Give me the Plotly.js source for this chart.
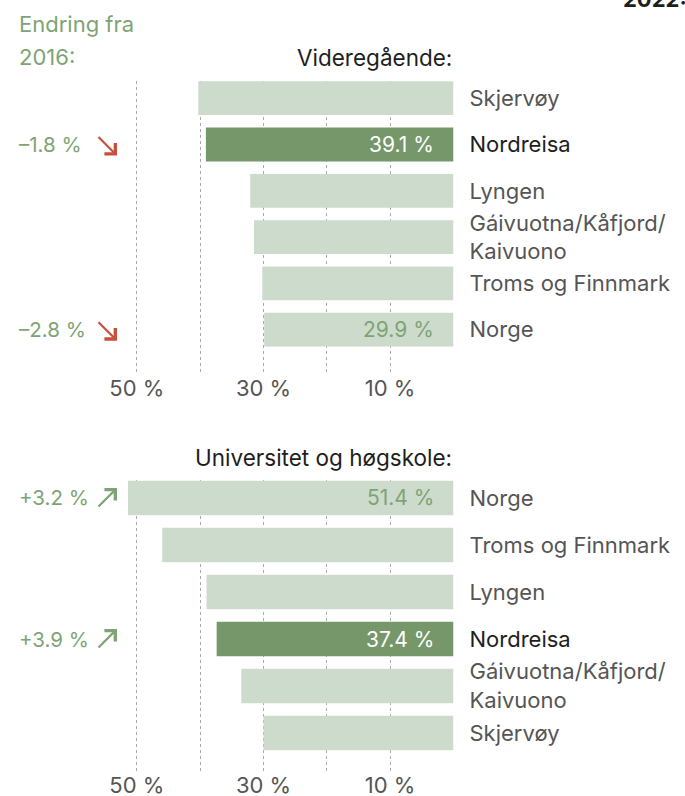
<!DOCTYPE html>
<html>
<head>
<meta charset="utf-8">
<script src="https://cdn.plot.ly/plotly-3.0.1.min.js"></script>
<style>
html,body{margin:0;padding:0;background:#fff;}
#chart{width:685px;height:796px;}
</style>
</head>
<body>
<div id="chart"></div>
<script>
// ---- data ----
const catsVGS = ["Skjervøy", "Nordreisa", "Lyngen", "Gáivuotna/Kåfjord/<br>Kaivuono", "Troms og Finnmark", "Norge"];
const valsVGS = [40.3, 39.1, 32.1, 31.5, 30.2, 29.9];
const labelVGS = [null, "39.1 %", null, null, null, "29.9 %"];
const changeVGS = [null, -1.8, null, null, null, -2.8];

const catsUH = ["Norge", "Troms og Finnmark", "Lyngen", "Nordreisa", "Gáivuotna/Kåfjord/<br>Kaivuono", "Skjervøy"];
const valsUH = [51.4, 46.0, 39.0, 37.4, 33.5, 30.0];
const labelUH = ["51.4 %", null, null, "37.4 %", null, null];
const changeUH = [3.2, null, null, 3.9, null, null];

const tickVals = [0, 10, 20, 30, 40, 50];
const tickText = ["", "10 %", "", "30 %", "", "50 %"];

// ---- style ----
const W = 685, H = 796;
const FONT = "Inter, 'Noto Sans', sans-serif";
const LIGHT = "#cddbcd", DARK = "#76976a", GREEN = "#7ea475", RED = "#c6503b";
const GREY = "#555555", INK = "#1e1e1e";
const highlight = "Nordreisa";

function px(x){ return x / W; }
function py(y){ return 1 - y / H; }

function colors(cats){ return cats.map(c => c === highlight ? DARK : LIGHT); }
function tickLabels(cats){
  return cats.map(c => c === highlight ? '<span style="color:' + INK + '">' + c + '</span>' : c);
}

const traces = [
  {type: "bar", orientation: "h", x: valsVGS, y: catsVGS, xaxis: "x", yaxis: "y",
   marker: {color: colors(catsVGS)}, width: 0.73, hoverinfo: "none"},
  {type: "bar", orientation: "h", x: valsUH, y: catsUH, xaxis: "x2", yaxis: "y2",
   marker: {color: colors(catsUH)}, width: 0.73, hoverinfo: "none"}
];

const annotations = [];
function addPanel(cats, labels, changes, yref){
  cats.forEach((c, i) => {
    if (labels[i]) {
      annotations.push({xref: yref === "y" ? "x" : "x2", yref: yref, x: 0, y: c,
        text: labels[i], showarrow: false, xanchor: "right", xshift: -18,
        font: {family: FONT, size: 21, color: c === highlight ? "#ffffff" : GREEN}});
    }
    if (changes[i] !== null) {
      const v = changes[i];
      const up = v > 0;
      const txt = (up ? "+" : "–") + Math.abs(v).toFixed(1) + " %";
      annotations.push({xref: "paper", yref: yref, x: px(17), y: c, text: txt,
        showarrow: false, xanchor: "left",
        font: {family: FONT, size: 20.5, color: GREEN}});
      // direction arrow
      annotations.push({xref: "paper", yref: yref, x: px(117), y: c, text: "",
        showarrow: true, arrowhead: 4, arrowsize: 1.35, arrowwidth: 2.2,
        arrowcolor: up ? GREEN : RED, standoff: 0,
        yshift: up ? 10 : -11, ax: -20, ay: up ? 20 : -20});
    }
  });
}
addPanel(catsVGS, labelVGS, changeVGS, "y");
addPanel(catsUH, labelUH, changeUH, "y2");

annotations.push(
  {xref: "paper", yref: "paper", x: px(17), y: py(24), text: "Endring fra", showarrow: false,
   xanchor: "left", yanchor: "middle", font: {family: FONT, size: 22, color: GREEN}},
  {xref: "paper", yref: "paper", x: px(17), y: py(57), text: "2016:", showarrow: false,
   xanchor: "left", yanchor: "middle", font: {family: FONT, size: 22, color: GREEN}},
  {xref: "paper", yref: "paper", x: px(454), y: py(57), text: "Videregående:", showarrow: false,
   xanchor: "right", yanchor: "middle", font: {family: FONT, size: 22.5, color: INK}},
  {xref: "paper", yref: "paper", x: px(454), y: py(457), text: "Universitet og høgskole:", showarrow: false,
   xanchor: "right", yanchor: "middle", font: {family: FONT, size: 22.5, color: INK}},
  {xref: "paper", yref: "paper", x: px(621), y: py(14), text: "<b>2022:</b>", showarrow: false,
   xanchor: "left", yanchor: "bottom", font: {family: FONT, size: 22, color: INK}}
);

const xBase = {
  range: [55, 0], domain: [px(105.2), px(453.5)],
  tickvals: tickVals, ticktext: tickText, showgrid: true,
  gridcolor: "#aaaaaa", griddash: "dot", gridwidth: 1,
  zeroline: false, showline: false, ticks: "", fixedrange: true,
  tickfont: {family: FONT, size: 22, color: GREY}
};
const yBase = {
  type: "category", side: "right", showgrid: false, zeroline: false, showline: false,
  ticks: "", ticklabelstandoff: 15, fixedrange: true,
  tickfont: {family: FONT, size: 22, color: GREY}
};

const layout = {
  width: W, height: H, margin: {l: 0, r: 0, t: 0, b: 0},
  paper_bgcolor: "#ffffff", plot_bgcolor: "rgba(0,0,0,0)",
  showlegend: false, bargap: 0.27,
  xaxis: Object.assign({}, xBase, {anchor: "y"}),
  xaxis2: Object.assign({}, xBase, {anchor: "y2", ticklabelstandoff: -2}),
  yaxis: Object.assign({}, yBase, {anchor: "x", domain: [py(373), py(80.5)],
    range: [5.936, -0.383], tickvals: catsVGS, ticktext: tickLabels(catsVGS)}),
  yaxis2: Object.assign({}, yBase, {anchor: "x2", domain: [py(772), py(480)],
    range: [5.83, -0.383], tickvals: catsUH, ticktext: tickLabels(catsUH)}),
  annotations: annotations
};

Plotly.newPlot("chart", traces, layout, {displayModeBar: false, staticPlot: true});
</script>
</body>
</html>
